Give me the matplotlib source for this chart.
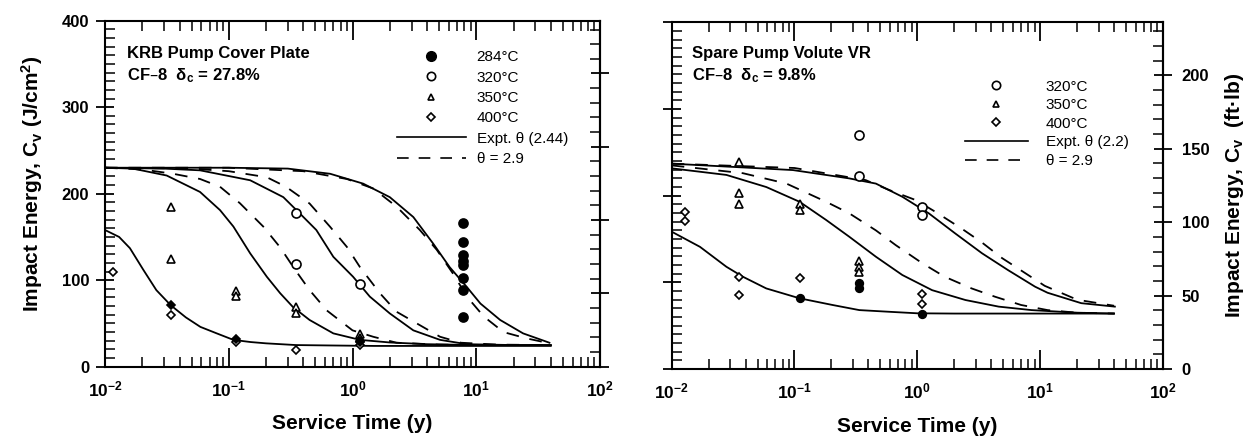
import numpy as np
import matplotlib
matplotlib.use("Agg")
import matplotlib.pyplot as plt
from matplotlib.ticker import MultipleLocator, LogLocator, FuncFormatter, NullFormatter, FixedLocator
from matplotlib.lines import Line2D

plt.rcParams["font.family"] = ["Liberation Sans", "DejaVu Sans"]
plt.rcParams["font.weight"] = "bold"
plt.rcParams["axes.labelweight"] = "bold"
plt.rcParams["mathtext.default"] = "regular"
plt.rcParams["axes.linewidth"] = 1.5

FTLB = 1.6947  # J/cm2 per ft-lb (0.8 cm2 Charpy section)

# ---------------- left panel: KRB pump cover plate ----------------
# measured points (service time in y, impact energy in J/cm2)
L_284_t = [7.8, 7.8, 7.8, 7.8, 7.8, 7.8, 7.8, 7.8]
L_284_e = [166, 144, 129, 122, 117, 103, 89, 58]
L_320_t = [0.35, 0.35, 1.15]
L_320_e = [178, 119, 96]
L_350_t = [0.034, 0.034, 0.115, 0.115, 0.35, 0.35, 1.15, 1.15]
L_350_e = [185, 125, 88, 82, 69, 62, 38, 33]
L_400_t = [0.0115, 0.034, 0.115, 0.35, 1.15, 1.15]
L_400_e = [110, 60, 28, 19, 25, 28]
L_dark_t = [0.034, 0.115, 1.15]
L_dark_e = [71, 32, 30]

# curves (solid = expt. theta 2.44, dashed = theta 2.9)
L_400_fit_t = [0.01, 0.013, 0.0159, 0.0204, 0.026, 0.034, 0.045, 0.059, 0.08, 0.109, 0.15, 0.2, 0.35, 0.7, 1.5, 4, 10, 40]
L_400_fit_e = [158, 150, 137, 112, 88.5, 71, 57, 46, 38.5, 31, 28.5, 27, 25, 24.5, 24, 24, 24, 24]
L_350_fit_t = [0.01, 0.0168, 0.0315, 0.0586, 0.085, 0.109, 0.149, 0.203, 0.26, 0.33, 0.45, 0.7, 1.15, 2, 4, 10, 40]
L_350_fit_e = [230, 229, 221, 202, 181, 162, 131, 104, 85, 69, 54, 38.5, 31, 28, 26, 25, 25]
L_350_th_t = [0.01, 0.02, 0.0356, 0.0586, 0.085, 0.123, 0.19, 0.26, 0.34, 0.45, 0.62, 1.0, 1.47, 2.27, 5, 12, 40]
L_350_th_e = [230, 228, 223, 217, 208, 189, 162, 138, 113, 88.5, 65, 42, 34.6, 27.7, 25.5, 25, 25]
L_320_fit_t = [0.01, 0.03, 0.0586, 0.149, 0.276, 0.376, 0.51, 0.7, 1.01, 1.38, 2.0, 3.1, 5.1, 8.4, 20, 40]
L_320_fit_e = [230, 229, 227, 215.5, 196, 177, 158, 127, 104, 81, 61.6, 42, 31, 26, 25, 25]
L_320_th_t = [0.01, 0.05, 0.1, 0.203, 0.29, 0.45, 0.66, 0.9, 1.15, 1.67, 2.27, 3.7, 5.1, 7.5, 15, 40]
L_320_th_e = [230, 229, 226, 219, 208, 188.6, 161.6, 138.5, 115, 84.7, 63.5, 46, 34.6, 27.7, 25.5, 25]
L_284_fit_t = [0.01, 0.1, 0.3, 0.66, 1.22, 2.0, 3.1, 4.5, 6.1, 8.4, 10.8, 15.6, 23.9, 39]
L_284_fit_e = [230, 230, 229, 223, 211.6, 196, 173, 142, 115, 92, 73, 54, 38.5, 27.7]
L_284_th_t = [0.01, 0.1, 0.4, 0.9, 1.47, 2.27, 3.5, 4.8, 6.6, 8.4, 11.5, 16.6, 25.5, 37.2]
L_284_th_e = [230, 230, 226, 217, 206, 185, 158, 135, 106, 81, 58, 40, 32.7, 27.7]

# ---------------- right panel: spare pump volute VR ----------------
R_320_t = [0.337, 0.337, 1.1, 1.1]
R_320_e = [270, 223, 187, 178]
R_350_t = [0.0353, 0.0353, 0.0353, 0.11, 0.11, 0.337, 0.337, 0.337]
R_350_e = [239, 203, 191, 191, 184, 125, 118, 112]
R_400_t = [0.0128, 0.0128, 0.0353, 0.0353, 0.11, 1.1, 1.1]
R_400_e = [181, 171, 106, 85, 105, 86, 75]
R_dark_t = [0.11, 0.337, 0.337, 1.1]
R_dark_e = [82, 99, 94, 64]

R_400_fit_t = [0.01, 0.017, 0.0279, 0.038, 0.0589, 0.11, 0.204, 0.337, 0.6, 1, 2, 5, 10, 20, 40]
R_400_fit_e = [158.5, 141, 118, 106.5, 93, 81.6, 73.9, 68, 66, 64.3, 64, 64, 64, 64, 64]
R_350_fit_t = [0.01, 0.0279, 0.059, 0.11, 0.181, 0.279, 0.46, 0.755, 1.32, 2.47, 4.6, 8.5, 20, 40]
R_350_fit_e = [231.6, 224, 210, 193, 172, 152.7, 129.6, 108.5, 91, 79.6, 72, 68, 65, 64]
R_350_th_t = [0.01, 0.038, 0.086, 0.181, 0.279, 0.46, 0.667, 1.1, 1.67, 2.77, 4.3, 7.0, 11.5, 20, 40]
R_350_th_e = [235, 226, 214, 193, 179.7, 160, 143, 122, 106.5, 93, 83.4, 73.9, 68, 65, 64]
R_320_fit_t = [0.01, 0.097, 0.279, 0.46, 0.755, 1.24, 2.03, 3.37, 5.5, 9.1, 11.5, 21.6, 40.6]
R_320_fit_e = [237, 229.6, 220, 214, 198.8, 179.7, 156.6, 133.5, 114, 95, 88, 76, 72]
R_320_th_t = [0.01, 0.1, 0.38, 0.59, 0.97, 1.4, 2.3, 3.36, 4.9, 7.5, 10.9, 20, 40]
R_320_th_e = [237, 232, 218, 206.6, 195, 181.5, 162, 146, 128, 111, 96, 80, 73]

FTLB_TICKS = [0, 50, 100, 150, 200]


def to_ftlb(e):
    return e / FTLB


def to_jcm2(f):
    return f * FTLB


def decade_label(v, pos):
    return r"$10^{%d}$" % int(round(np.log10(v)))


def style_axes(ax):
    ax.set_xscale("log")
    ax.set_xlim(0.01, 100)
    ax.set_ylim(0, 400)
    ax.xaxis.set_major_locator(LogLocator(base=10, numticks=10))
    ax.xaxis.set_minor_locator(LogLocator(base=10, subs=np.arange(2, 10), numticks=10))
    ax.xaxis.set_minor_formatter(NullFormatter())
    ax.xaxis.set_major_formatter(FuncFormatter(decade_label))
    ax.yaxis.set_major_locator(MultipleLocator(100))
    ax.yaxis.set_minor_locator(MultipleLocator(10))
    ax.tick_params(axis="x", which="major", direction="in", length=14, width=1.3, top=True, pad=9, labelsize=12.5)
    ax.tick_params(axis="x", which="minor", direction="in", length=7, width=1.1, top=True)
    ax.tick_params(axis="y", which="major", direction="inout", length=13, width=1.3, pad=5, labelsize=12)
    ax.tick_params(axis="y", which="minor", direction="in", length=7, width=1.1)
    sec = ax.secondary_yaxis("right", functions=(to_ftlb, to_jcm2))
    sec.yaxis.set_major_locator(FixedLocator(FTLB_TICKS))
    sec.yaxis.set_minor_locator(FixedLocator(list(range(0, 240, 10))))
    sec.tick_params(which="major", direction="inout", length=13, width=1.3, pad=7, labelsize=12)
    sec.tick_params(which="minor", direction="in", length=7, width=1.1)
    sec.spines["right"].set_linewidth(1.5)
    ax.set_xlabel("Service Time (y)", fontsize=15, labelpad=11)
    return sec


def points(ax, t, e, marker, filled=False, ms=6.5):
    ax.plot(t, e, ls="none", marker=marker, ms=ms, mew=1.2,
            mec="black", mfc="black" if filled else "white", zorder=3)


def curve(ax, t, e, dashed=False):
    if dashed:
        ax.plot(t, e, color="black", lw=1.3, ls=(0, (7, 6)), zorder=2)
    else:
        ax.plot(t, e, color="black", lw=1.3, zorder=2)


fig = plt.figure(figsize=(12.59, 4.38), dpi=100)
axL = fig.add_axes([0.0834, 0.1628, 0.3932, 0.79])
axR = fig.add_axes([0.5335, 0.1575, 0.3902, 0.7913])

# left panel
secL = style_axes(axL)
secL.yaxis.set_major_formatter(NullFormatter())
curve(axL, L_400_fit_t, L_400_fit_e)
curve(axL, L_350_fit_t, L_350_fit_e)
curve(axL, L_350_th_t, L_350_th_e, dashed=True)
curve(axL, L_320_fit_t, L_320_fit_e)
curve(axL, L_320_th_t, L_320_th_e, dashed=True)
curve(axL, L_284_fit_t, L_284_fit_e)
curve(axL, L_284_th_t, L_284_th_e, dashed=True)
points(axL, L_284_t, L_284_e, "o", filled=True)
points(axL, L_320_t, L_320_e, "o")
points(axL, L_350_t, L_350_e, "^", ms=6)
points(axL, L_400_t, L_400_e, "D", ms=4.5)
points(axL, L_dark_t, L_dark_e, "D", filled=True, ms=4.5)
axL.set_ylabel(r"Impact Energy, C$_v$ (J/cm$^2$)", fontsize=15)
axL.yaxis.set_label_coords(-0.121, 0.53)
axL.text(0.044, 0.892, "KRB Pump Cover Plate", transform=axL.transAxes, fontsize=12, va="baseline")
axL.text(0.044, 0.829, r"CF–8  $\delta_c$ = 27.8%", transform=axL.transAxes, fontsize=12, va="baseline")

hL = [Line2D([], [], ls="none", marker="o", ms=7, mec="k", mfc="k"),
      Line2D([], [], ls="none", marker="o", ms=6, mec="k", mfc="white", mew=1.2),
      Line2D([], [], ls="none", marker="^", ms=5, mec="k", mfc="white", mew=1.2),
      Line2D([], [], ls="none", marker="D", ms=4, mec="k", mfc="white", mew=1.2),
      Line2D([], [], color="k", lw=1.2),
      Line2D([], [], color="k", lw=1.2, ls=(0, (7, 6)))]
labL = ["284°C", "320°C", "350°C", "400°C", "Expt. θ (2.44)", "θ = 2.9"]
axL.legend(hL, labL, loc="upper left", bbox_to_anchor=(0.59, 0.915), frameon=False,
           handlelength=4.5, handletextpad=0.7, labelspacing=0.42, borderpad=0, borderaxespad=0,
           prop={"size": 11, "weight": "normal"})

# right panel
secR = style_axes(axR)
axR.tick_params(axis="y", labelleft=False)
secR.set_ylabel(r"Impact Energy, C$_v$  (ft·lb)", fontsize=15, labelpad=10)
curve(axR, R_400_fit_t, R_400_fit_e)
curve(axR, R_350_fit_t, R_350_fit_e)
curve(axR, R_350_th_t, R_350_th_e, dashed=True)
curve(axR, R_320_fit_t, R_320_fit_e)
curve(axR, R_320_th_t, R_320_th_e, dashed=True)
points(axR, R_320_t, R_320_e, "o")
points(axR, R_350_t, R_350_e, "^", ms=6)
points(axR, R_400_t, R_400_e, "D", ms=4.5)
points(axR, R_dark_t, R_dark_e, "o", filled=True, ms=5.5)
axR.text(0.041, 0.897, "Spare Pump Volute VR", transform=axR.transAxes, fontsize=12, va="baseline")
axR.text(0.041, 0.834, r"CF–8  $\delta_c$ = 9.8%", transform=axR.transAxes, fontsize=12, va="baseline")

hR = hL[1:]
labR = ["320°C", "350°C", "400°C", "Expt. θ (2.2)", "θ = 2.9"]
axR.legend(hR, labR, loc="upper left", bbox_to_anchor=(0.597, 0.835), frameon=False,
           handlelength=4.1, handletextpad=1.2, labelspacing=0.3, borderpad=0, borderaxespad=0,
           prop={"size": 11, "weight": "normal"})

fig.savefig("out.png", dpi=100)
